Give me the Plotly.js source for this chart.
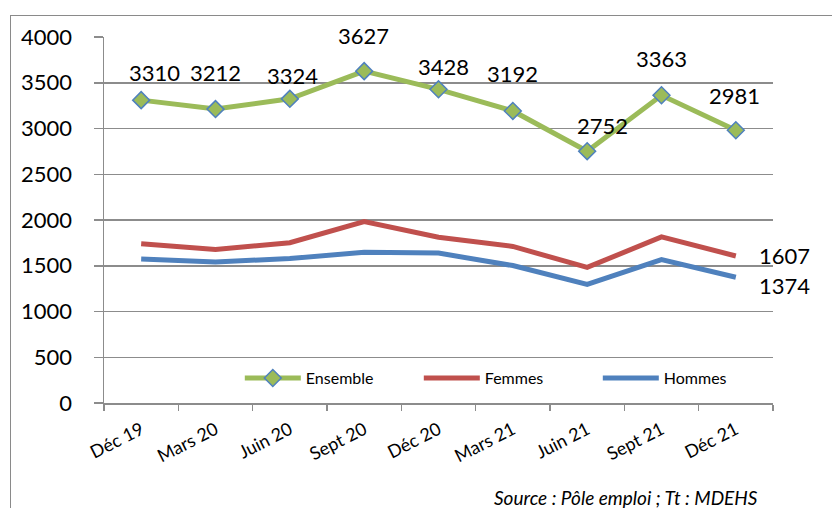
<!DOCTYPE html>
<html>
<head>
<meta charset="utf-8">
<script src="https://cdn.plot.ly/plotly-3.0.1.min.js"></script>
<style>
  html, body { margin: 0; padding: 0; background: #fff; overflow: hidden; }
  #wrap { position: relative; width: 832px; height: 508px; }
  #frame { position: absolute; left: 10px; top: 15px; width: 900px; height: 600px;
           border: 1.5px solid #8a8a8a; pointer-events: none; }
  #chart { position: absolute; left: 0; top: 0; width: 832px; height: 508px; }
</style>
</head>
<body>
<div id="wrap">
  <div id="chart"></div>
  <div id="frame"></div>
</div>
<script>
// ---- data ----
const categories = ["Déc 19", "Mars 20", "Juin 20", "Sept 20", "Déc 20", "Mars 21", "Juin 21", "Sept 21", "Déc 21"];
const ensemble = [3310, 3212, 3324, 3627, 3428, 3192, 2752, 3363, 2981];
const femmes   = [1740, 1679, 1752, 1983, 1811, 1711, 1482, 1815, 1607];
const hommes   = [1575, 1542, 1578, 1648, 1638, 1502, 1297, 1568, 1374];
const yTicks   = [0, 500, 1000, 1500, 2000, 2500, 3000, 3500, 4000];
const seriesNames = ["Ensemble", "Femmes", "Hommes"];
const sourceText = "Source : Pôle emploi ; Tt : MDEHS";

// label placement offsets (px) for Ensemble labels: [right, up]
const ensLabelShift = [[13,28],[0,37],[3,23],[-1,36],[5,23],[0,37],[15,26],[0,37],[-1,35]];

const FONT = "Lato, 'Open Sans', sans-serif";
const GRID = "#8c8c8c";

const traces = [
  {
    x: categories, y: ensemble, name: seriesNames[0], type: "scatter", mode: "lines+markers",
    line: { color: "#9bbb59", width: 5 },
    marker: { symbol: "diamond", size: 13, color: "#9bbb59", line: { color: "#4f81bd", width: 1.5 } }
  },
  {
    x: categories, y: femmes, name: seriesNames[1], type: "scatter", mode: "lines",
    line: { color: "#c0504d", width: 5 }
  },
  {
    x: categories, y: hommes, name: seriesNames[2], type: "scatter", mode: "lines",
    line: { color: "#4f81bd", width: 5 }
  }
];

const annotations = [];
ensemble.forEach((v, i) => {
  annotations.push({
    x: categories[i], y: v, xref: "x", yref: "y", text: String(v), showarrow: false,
    xanchor: "center", yanchor: "middle",
    xshift: ensLabelShift[i][0], yshift: ensLabelShift[i][1],
    font: { family: FONT, size: 22, color: "#000" }
  });
});
const last = categories.length - 1;
annotations.push({
  x: categories[last], y: femmes[last], xref: "x", yref: "y", text: String(femmes[last]),
  showarrow: false, xanchor: "center", yanchor: "middle", xshift: 49, yshift: 0,
  font: { family: FONT, size: 22, color: "#000" }
});
annotations.push({
  x: categories[last], y: hommes[last], xref: "x", yref: "y", text: String(hommes[last]),
  showarrow: false, xanchor: "center", yanchor: "middle", xshift: 49, yshift: -8,
  font: { family: FONT, size: 22, color: "#000" }
});
annotations.push({
  x: 1, y: -0.221, xref: "paper", yref: "paper", text: "<i>" + sourceText + "</i>",
  showarrow: false, xanchor: "right", yanchor: "top", xshift: -13,
  font: { family: FONT, size: 19, color: "#000" }
});

const layout = {
  width: 832, height: 508,
  margin: { l: 103.5, r: 59, t: 37, b: 105 },
  paper_bgcolor: "rgba(0,0,0,0)", plot_bgcolor: "rgba(0,0,0,0)",
  font: { family: FONT, color: "#000" },
  showlegend: true,
  legend: {
    orientation: "h", x: 0.203, xanchor: "left", y: 0.068, yanchor: "middle",
    font: { family: FONT, size: 16, color: "#000" },
    itemwidth: 56, entrywidth: 108, entrywidthmode: "pixels",
    bgcolor: "rgba(0,0,0,0)", traceorder: "normal"
  },
  xaxis: {
    type: "category", range: [-0.5, 8.5], tickson: "boundaries", ticks: "outside", ticklen: 6,
    tickcolor: GRID, tickwidth: 1.5, showline: true, linecolor: GRID, linewidth: 1.5,
    showgrid: false, zeroline: false, tickangle: -27,
    tickfont: { family: FONT, size: 18, color: "#000" }, ticklabelstandoff: 8
  },
  yaxis: {
    range: [0, 4000], tickvals: yTicks, ticktext: yTicks.map(String),
    ticks: "outside", ticklen: 9, tickcolor: GRID, tickwidth: 1.5,
    showline: true, linecolor: GRID, linewidth: 1.5,
    showgrid: true, gridcolor: GRID, gridwidth: 1.5, zeroline: false,
    tickfont: { family: FONT, size: 22, color: "#000" }, ticklabelstandoff: 17
  },
  annotations: annotations
};

Plotly.newPlot("chart", traces, layout, { staticPlot: true, displayModeBar: false });
</script>
</body>
</html>
